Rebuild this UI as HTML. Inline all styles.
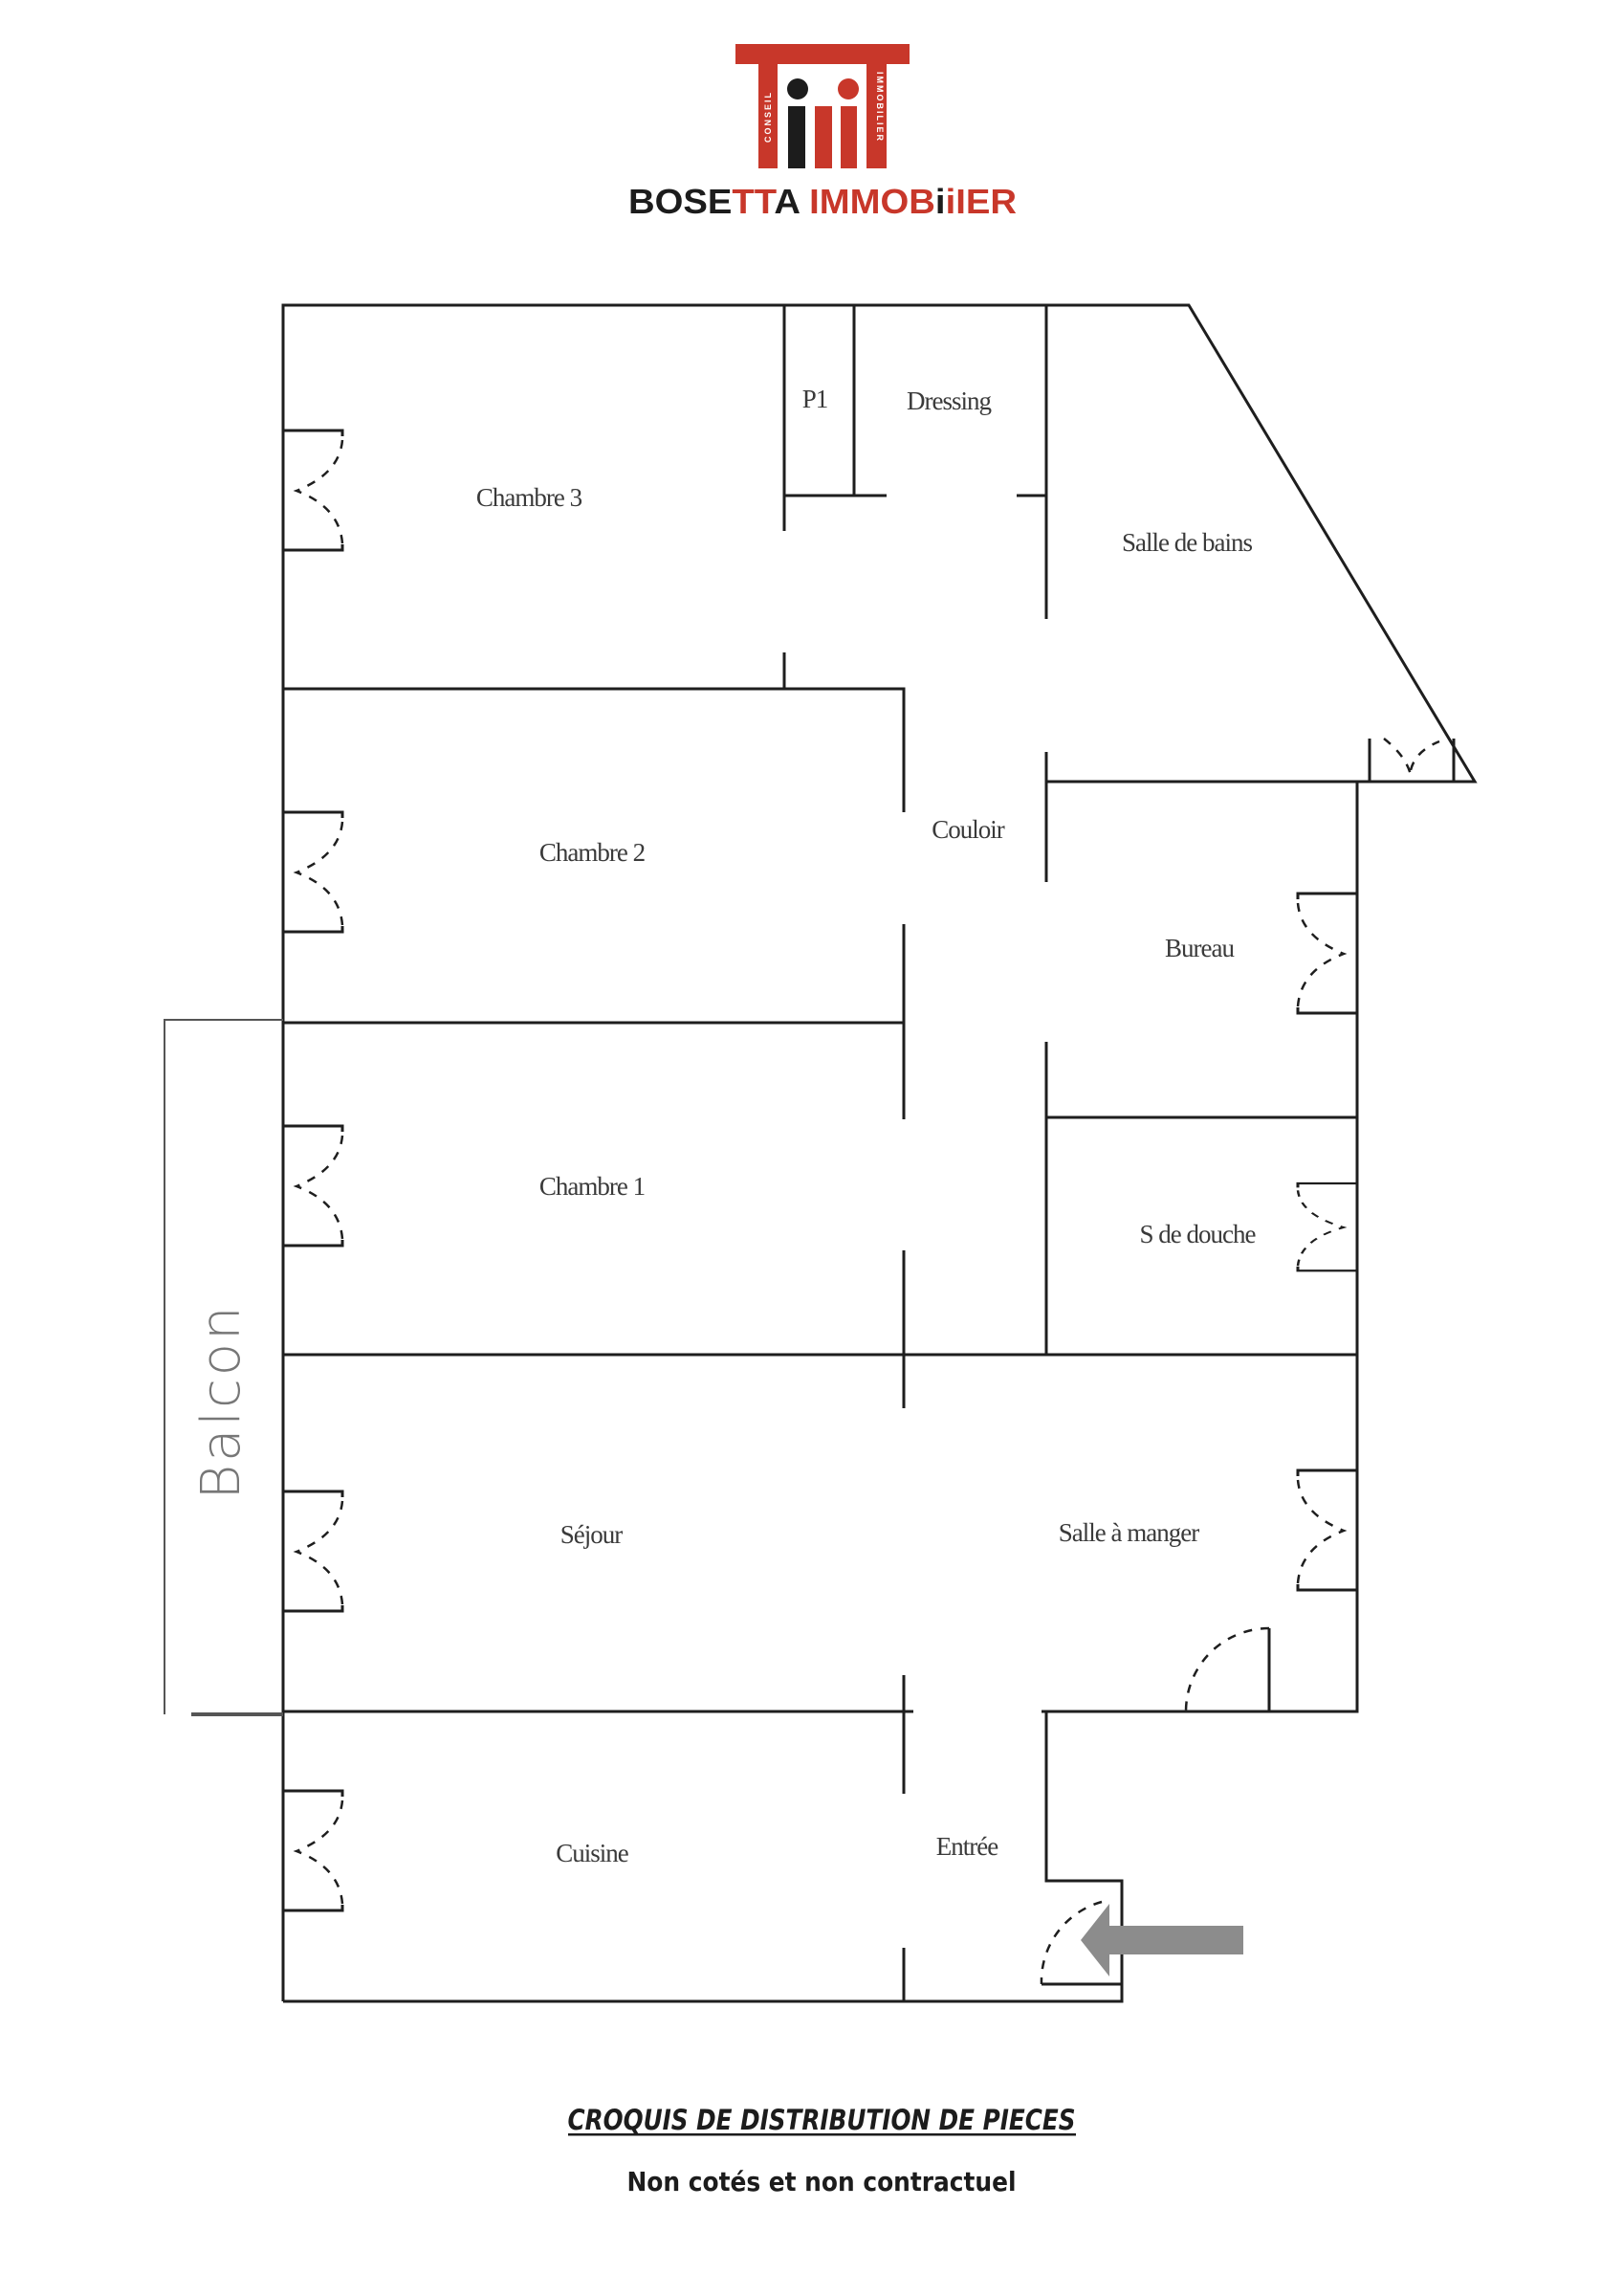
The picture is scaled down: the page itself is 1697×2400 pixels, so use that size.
<!DOCTYPE html>
<html><head><meta charset="utf-8"><style>
html,body{margin:0;padding:0;background:#fff;}
svg{display:block;}
.w{stroke:#1e1e1e;stroke-width:3;fill:none;}
.d{stroke:#1e1e1e;stroke-width:2.5;fill:none;stroke-dasharray:9 9;}
.t{font-family:"Liberation Serif",serif;font-size:27px;fill:#3a3a3a;text-anchor:middle;letter-spacing:-1px;}
</style></head><body>
<svg width="1697" height="2400" viewBox="0 0 1697 2400" xmlns="http://www.w3.org/2000/svg">
<defs>
<g id="winL">
  <path class="w" d="M296 0 H358 V6"/>
  <path class="w" d="M296 125 H358 V119"/>
  <path class="d" d="M358 10 Q355 45 310 63 Q355 80 358 118"/>
</g>
</defs>
<!-- Logo -->
<rect x="769" y="46" width="182" height="21" fill="#c8372a"/>
<rect x="793" y="67" width="20" height="109" fill="#c8372a"/>
<rect x="906" y="67" width="21" height="109" fill="#c8372a"/>
<rect x="824" y="111" width="18" height="65" fill="#1c1c1c"/>
<circle cx="834" cy="93" r="11" fill="#1c1c1c"/>
<rect x="852" y="111" width="18" height="65" fill="#c8372a"/>
<rect x="879" y="111" width="17" height="65" fill="#c8372a"/>
<circle cx="887" cy="93" r="11" fill="#c8372a"/>
<text x="806" y="122" transform="rotate(-90 806 122)" font-family="Liberation Sans,sans-serif" font-size="9" font-weight="bold" fill="#fff" text-anchor="middle" letter-spacing="2">CONSEIL</text>
<text x="917" y="112" transform="rotate(90 917 112)" font-family="Liberation Sans,sans-serif" font-size="9" font-weight="bold" fill="#fff" text-anchor="middle" letter-spacing="2">IMMOBILIER</text>
<text x="657" y="223" font-family="Liberation Sans,sans-serif" font-size="36" font-weight="bold" textLength="406" lengthAdjust="spacingAndGlyphs"><tspan fill="#1c1c1c">BOSE</tspan><tspan fill="#c8372a">TT</tspan><tspan fill="#1c1c1c">A </tspan><tspan fill="#c8372a">IMMOB</tspan><tspan fill="#1c1c1c">i</tspan><tspan fill="#c8372a">iIER</tspan></text>

<!-- Outer walls -->
<path class="w" d="M296 2092 V319 H1243 L1542 817 H1419 V1789 H1094 V1966 H1173 V2092 H296"/>
<!-- Balcon -->
<path d="M171 1066 H296 M172 1066 V1792" stroke="#555" stroke-width="2" fill="none"/>
<path d="M200 1792 H296" stroke="#555" stroke-width="4"/>
<text x="250" y="1465" transform="rotate(-90 250 1465)" font-family="DejaVu Sans,sans-serif" font-size="56" font-weight="200" fill="#777" text-anchor="middle" letter-spacing="3">Balcon</text>

<!-- Interior walls -->
<path class="w" d="M296 720 H945 V849"/>
<path class="w" d="M945 966 V1170"/>
<path class="w" d="M945 1307 V1472"/>
<path class="w" d="M945 1751 V1875"/>
<path class="w" d="M945 2036 V2092"/>
<path class="w" d="M296 1069 H945"/>
<path class="w" d="M296 1416 H1419"/>
<path class="w" d="M296 1789 H955"/>
<path class="w" d="M1089 1789 H1419"/>
<!-- P1 / Dressing -->
<path class="w" d="M820 319 V555"/>
<path class="w" d="M820 682 V720"/>
<path class="w" d="M893 319 V518"/>
<path class="w" d="M820 518 H927"/>
<path class="w" d="M1063 518 H1094"/>
<path class="w" d="M1094 319 V647"/>
<path class="w" d="M1094 786 V922"/>
<path class="w" d="M1094 817 H1419"/>
<path class="w" d="M1094 1089 V1416"/>
<path class="w" d="M1094 1168 H1419"/>
<!-- Bathroom door -->
<path class="w" d="M1432 772 V817 M1520 772 V817"/>
<path class="d" d="M1447 772 Q1470 790 1475 810 M1475 805 Q1480 785 1505 775"/>
<!-- Left windows -->
<use href="#winL" y="450"/>
<use href="#winL" y="849"/>
<use href="#winL" y="1177"/>
<use href="#winL" y="1559"/>
<use href="#winL" y="1872"/>
<!-- Right windows -->
<use href="#winL" transform="translate(1715 934) scale(-1 1)"/>
<use href="#winL" transform="translate(1715 1237) scale(-1 0.73)"/>
<use href="#winL" transform="translate(1715 1537) scale(-1 1)"/>
<!-- SAM door -->
<path class="w" d="M1327 1702 V1789"/>
<path class="d" d="M1327 1702 A87 87 0 0 0 1240 1789"/>
<!-- Entrance door -->
<path class="w" d="M1089 2074 H1173"/>
<path class="d" d="M1152 1988 A86 86 0 0 0 1089 2074"/>
<!-- Arrow -->
<polygon points="1300,2013 1160,2013 1160,1990 1130,2028 1160,2066 1160,2043 1300,2043" fill="#8c8c8c"/>

<!-- Labels -->
<text class="t" x="553" y="529">Chambre 3</text>
<text class="t" x="619" y="900">Chambre 2</text>
<text class="t" x="619" y="1249">Chambre 1</text>
<text class="t" x="618" y="1613">Séjour</text>
<text class="t" x="1180" y="1611">Salle à manger</text>
<text class="t" x="619" y="1946">Cuisine</text>
<text class="t" x="1011" y="1939">Entrée</text>
<text class="t" x="1012" y="876">Couloir</text>
<text class="t" x="1254" y="1000">Bureau</text>
<text class="t" x="1252" y="1299">S de douche</text>
<text class="t" x="1241" y="576">Salle de bains</text>
<text class="t" x="992" y="428">Dressing</text>
<text class="t" x="852" y="426">P1</text>

<!-- Footer -->
<text x="859" y="2226" font-family="DejaVu Sans,sans-serif" font-size="29" font-style="italic" font-weight="bold" fill="#1c1c1c" text-anchor="middle" textLength="531" lengthAdjust="spacingAndGlyphs">CROQUIS DE DISTRIBUTION DE PIECES</text>
<rect x="594" y="2230" width="531" height="2.5" fill="#1c1c1c"/>
<text x="859" y="2290" font-family="DejaVu Sans,sans-serif" font-size="28" font-weight="bold" fill="#1c1c1c" text-anchor="middle" textLength="407" lengthAdjust="spacingAndGlyphs">Non cotés et non contractuel</text>
</svg>
</body></html>
